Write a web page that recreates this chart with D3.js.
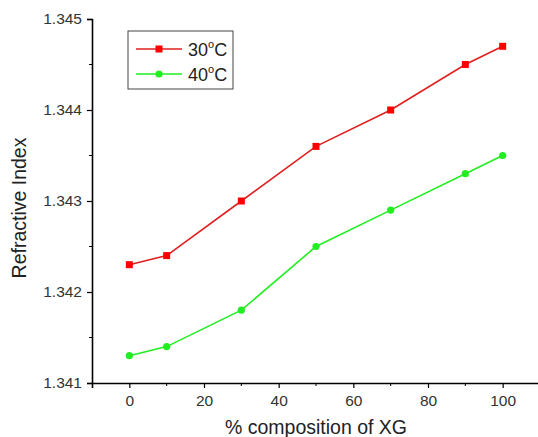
<!DOCTYPE html>
<html>
<head>
<meta charset="utf-8">
<script src="https://cdn.jsdelivr.net/npm/d3@7"></script>
<style>
  body { margin: 0; background: #fff; }
  text { font-family: "Liberation Sans", Arial, sans-serif; }
</style>
</head>
<body>
<div id="chart"></div>
<script>
// Data
const composition = [0, 10, 30, 50, 70, 90, 100];
const ri30 = [1.3423, 1.3424, 1.3430, 1.3436, 1.3440, 1.3445, 1.3447];
const ri40 = [1.3413, 1.3414, 1.3418, 1.3425, 1.3429, 1.3433, 1.3435];
const xTicks = [0, 20, 40, 60, 80, 100];
const yTicks = [1.341, 1.342, 1.343, 1.344, 1.345];

const width = 538, height = 437;
const margin = { left: 92, top: 19, bottom: 54 };

const svg = d3.select('#chart').append('svg')
    .attr('width', width)
    .attr('height', height);

const x = d3.scaleLinear().domain([-10, 110]).range([margin.left, 540]);
const y = d3.scaleLinear().domain([1.341, 1.345]).range([height - margin.bottom, margin.top]);

const series = [
    { name: '30', values: ri30, line: '#e02020', fill: '#ff0000', shape: 'square' },
    { name: '40', values: ri40, line: '#22ee22', fill: '#22ee22', shape: 'circle' }
];

// Axes
const xAxis = svg.append('g')
    .attr('transform', `translate(0,${y(1.341)})`)
    .call(d3.axisBottom(x).tickValues(xTicks).tickSize(5).tickPadding(7).tickFormat(d3.format('d')));
xAxis.append('g').selectAll('line')
    .data([10, 30, 50, 70, 90])
    .enter().append('line')
    .attr('x1', d => x(d)).attr('x2', d => x(d))
    .attr('y1', 0).attr('y2', 3)
    .attr('stroke', '#000');

const yAxis = svg.append('g')
    .attr('transform', `translate(${margin.left},0)`)
    .call(d3.axisLeft(y).tickValues(yTicks).tickSize(5).tickPadding(5).tickFormat(d3.format('.3f')));
yAxis.append('g').selectAll('line')
    .data([1.3415, 1.3425, 1.3435, 1.3445])
    .enter().append('line')
    .attr('x1', 0).attr('x2', -3)
    .attr('y1', d => y(d)).attr('y2', d => y(d))
    .attr('stroke', '#000');

[xAxis, yAxis].forEach(a => {
    a.attr('font-size', 15.5);
    a.select('.domain').attr('stroke', '#000').attr('stroke-width', 1.6);
    a.selectAll('.tick line').attr('stroke', '#000').attr('stroke-width', 1.2);
    a.selectAll('.tick text').attr('fill', '#333');
});

// Axis titles
svg.append('text')
    .attr('x', 316).attr('y', 434)
    .attr('text-anchor', 'middle')
    .attr('font-size', 19.5).attr('fill', '#222')
    .text('% composition of XG');

svg.append('text')
    .attr('transform', 'translate(26,208) rotate(-90)')
    .attr('text-anchor', 'middle')
    .attr('font-size', 19.5).attr('fill', '#222')
    .text('Refractive Index');

// Lines and markers
const line = d3.line()
    .x((d, i) => x(composition[i]))
    .y(d => y(d));

series.forEach(s => {
    svg.append('path')
        .datum(s.values)
        .attr('d', line)
        .attr('fill', 'none')
        .attr('stroke', s.line)
        .attr('stroke-width', 1.6);

    const pts = svg.append('g');
    if (s.shape === 'square') {
        pts.selectAll('rect').data(s.values).enter().append('rect')
            .attr('x', (d, i) => x(composition[i]) - 3.5)
            .attr('y', d => y(d) - 3.5)
            .attr('width', 7).attr('height', 7)
            .attr('fill', s.fill);
    } else {
        pts.selectAll('circle').data(s.values).enter().append('circle')
            .attr('cx', (d, i) => x(composition[i]))
            .attr('cy', d => y(d))
            .attr('r', 3.6)
            .attr('fill', s.fill);
    }
});

// Legend
const legend = svg.append('g').attr('transform', 'translate(128,31)');
legend.append('rect')
    .attr('width', 105).attr('height', 58)
    .attr('fill', '#fff').attr('stroke', '#444').attr('stroke-width', 1);

series.forEach((s, i) => {
    const ly = 18 + i * 25;
    legend.append('line')
        .attr('x1', 8).attr('x2', 54)
        .attr('y1', ly).attr('y2', ly)
        .attr('stroke', s.line).attr('stroke-width', 1.6);
    if (s.shape === 'square') {
        legend.append('rect')
            .attr('x', 31 - 3.5).attr('y', ly - 3.5)
            .attr('width', 7).attr('height', 7)
            .attr('fill', s.fill);
    } else {
        legend.append('circle')
            .attr('cx', 31).attr('cy', ly).attr('r', 3.6)
            .attr('fill', s.fill);
    }
    const t = legend.append('text')
        .attr('x', 60).attr('y', ly + 7)
        .attr('font-size', 18).attr('fill', '#222');
    t.append('tspan').text(s.name);
    t.append('tspan').attr('font-size', 11).attr('dy', -8).text('o');
    t.append('tspan').attr('dy', 8).text('C');
});
</script>
</body>
</html>
